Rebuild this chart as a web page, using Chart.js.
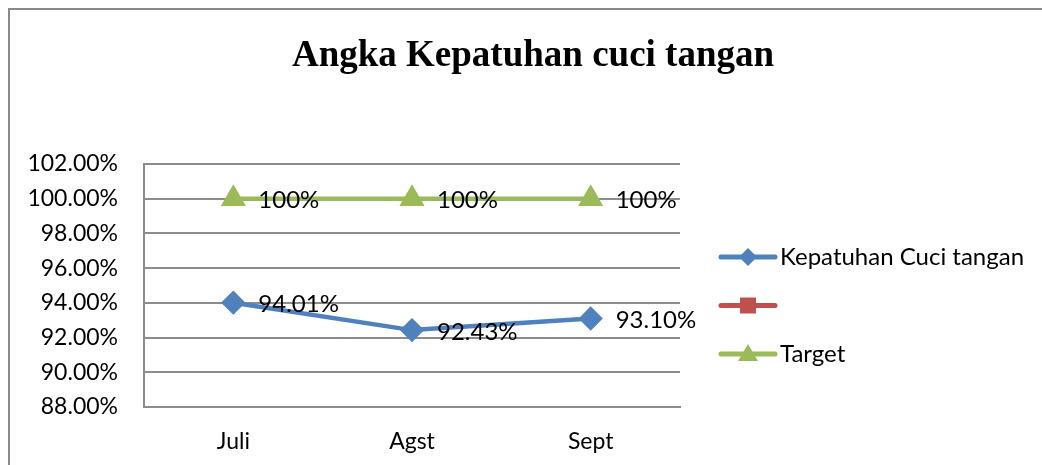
<!DOCTYPE html>
<html>
<head>
<meta charset="utf-8">
<title>Angka Kepatuhan cuci tangan</title>
<script src="https://cdn.jsdelivr.net/npm/chart.js@4"></script>
<style>
  html, body { margin: 0; padding: 0; background: #fff; }
  #wrap { width: 1042px; height: 465px; position: relative; }
</style>
</head>
<body>
<div id="wrap"><canvas id="chart" width="1042" height="465"></canvas></div>
<script>
'use strict';

// chart data
const months = ['Juli', 'Agst', 'Sept'];
const kepatuhan = [94.01, 92.43, 93.10];
const kosong = [null, null, null];
const target = [100, 100, 100];
const yTicks = [88, 90, 92, 94, 96, 98, 100, 102];

const BLUE = '#4F81BD', RED = '#C0504D', GREEN = '#9BBB59', GRID = '#8c8c8c';
const FONT = 'Lato, "Open Sans", sans-serif';

// labels beside each point, Excel style (right of marker)
const pointLabels = {
  id: 'pointLabels',
  afterDatasetsDraw(chart) {
    const ctx = chart.ctx;
    ctx.save();
    ctx.font = '24px ' + FONT;
    ctx.fillStyle = '#000';
    ctx.textAlign = 'left';
    ctx.textBaseline = 'middle';
    chart.data.datasets.forEach((ds, i) => {
      if (!ds.labelFmt) return;
      chart.getDatasetMeta(i).data.forEach((pt, j) => {
        const v = ds.data[j];
        if (v == null) return;
        ctx.fillText(ds.labelFmt(v), pt.x + 25, pt.y + 2);
      });
    });
    ctx.restore();
  }
};

// frame, title and legend drawn by hand
const decor = {
  id: 'decor',
  beforeDraw(chart) {
    const ctx = chart.ctx;
    ctx.save();
    ctx.strokeStyle = '#8a8a8a';
    ctx.lineWidth = 2;
    ctx.beginPath();
    ctx.moveTo(9, 470); ctx.lineTo(9, 9); ctx.lineTo(1050, 9);
    ctx.stroke();
    ctx.restore();
  },
  afterDraw(chart) {
    const ctx = chart.ctx;
    ctx.save();
    ctx.fillStyle = '#000';
    ctx.font = 'bold 37px "Liberation Serif", "Times New Roman", serif';
    ctx.textAlign = 'center';
    ctx.textBaseline = 'middle';
    ctx.fillText('Angka Kepatuhan cuci tangan', 533, 56);

    const items = chart.data.datasets;
    items.forEach((ds, i) => {
      const y = 257 + i * 48.5, x0 = 721, x1 = 775, xm = (x0 + x1) / 2;
      ctx.strokeStyle = ds.borderColor;
      ctx.lineWidth = 5;
      ctx.lineCap = 'round';
      ctx.beginPath(); ctx.moveTo(x0, y); ctx.lineTo(x1, y); ctx.stroke();
      ctx.fillStyle = ds.borderColor;
      ctx.beginPath();
      if (ds.pointStyle === 'rectRot') {
        ctx.moveTo(xm, y - 9); ctx.lineTo(xm + 9, y); ctx.lineTo(xm, y + 9); ctx.lineTo(xm - 9, y);
      } else if (ds.pointStyle === 'rect') {
        ctx.rect(xm - 8, y - 8, 16, 16);
      } else {
        ctx.moveTo(xm, y - 10); ctx.lineTo(xm + 10, y + 7); ctx.lineTo(xm - 10, y + 7);
      }
      ctx.closePath(); ctx.fill();
      ctx.fillStyle = '#000';
      ctx.font = '24px ' + FONT;
      ctx.textAlign = 'left';
      ctx.textBaseline = 'middle';
      ctx.fillText(ds.label, 780, y);
    });
    ctx.restore();
  }
};

new Chart(document.getElementById('chart'), {
  type: 'line',
  data: {
    labels: months,
    datasets: [
      { label: 'Kepatuhan Cuci tangan', data: kepatuhan, borderColor: BLUE, backgroundColor: BLUE,
        borderWidth: 4.5, pointStyle: 'rectRot', pointRadius: 9, pointHoverRadius: 9,
        labelFmt: v => v.toFixed(2) + '%' },
      { label: '', data: kosong, borderColor: RED, backgroundColor: RED,
        borderWidth: 4.5, pointStyle: 'rect', pointRadius: 8 },
      { label: 'Target', data: target, borderColor: GREEN, backgroundColor: GREEN,
        borderWidth: 4.5, pointStyle: 'triangle', pointRadius: 10, pointHoverRadius: 10,
        labelFmt: v => Math.round(v) + '%' },
    ],
  },
  options: {
    responsive: false, animation: false,
    layout: { padding: { left: 0, right: 362, top: 164, bottom: 0 } },
    plugins: { legend: { display: false }, title: { display: false }, tooltip: { enabled: false } },
    scales: {
      x: {
        offset: true,
        grid: { display: false, drawTicks: false },
        border: { display: true, color: GRID, width: 2 },
        ticks: { color: '#000', font: { family: FONT, size: 23 }, padding: 21 },
        afterFit: s => { s.height = 58; },
      },
      y: {
        min: 88, max: 102,
        afterBuildTicks: s => { s.ticks = yTicks.map(v => ({ value: v })); },
        grid: { color: GRID, lineWidth: 2, drawTicks: false },
        border: { display: true, color: GRID, width: 2 },
        ticks: { color: '#000', font: { family: FONT, size: 23 }, padding: 26,
                 callback: v => Number(v).toFixed(2) + '%' },
        afterFit: s => { s.width = 144; },
      },
    },
  },
  plugins: [decor, pointLabels],
});
</script>
</body>
</html>
